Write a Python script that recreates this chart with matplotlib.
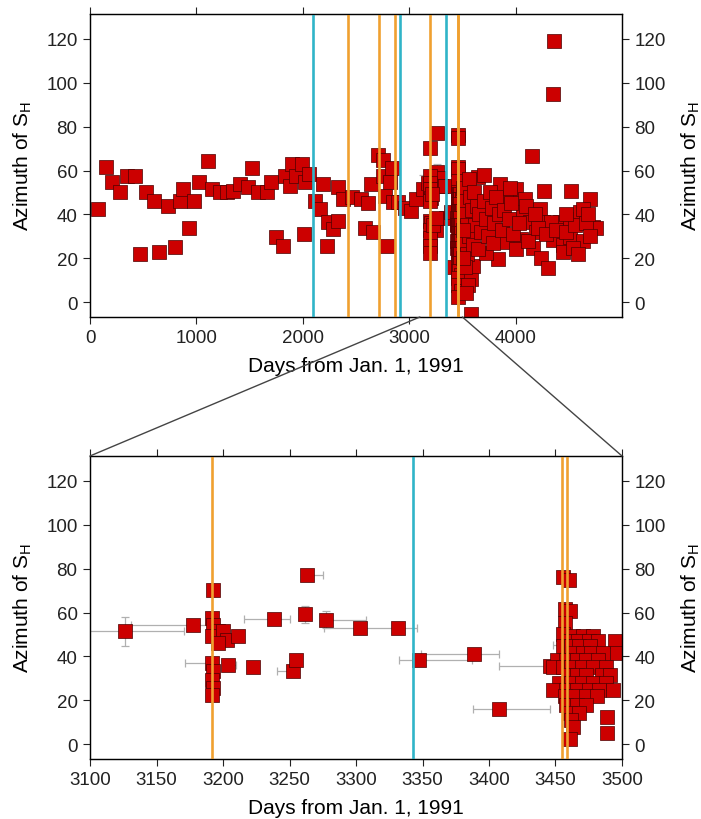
import numpy as np
import matplotlib
matplotlib.use('Agg')
import matplotlib.pyplot as plt
from matplotlib.patches import ConnectionPatch

plt.rcParams['font.family'] = ['Liberation Sans', 'DejaVu Sans']
plt.rcParams['mathtext.default'] = 'regular'

# --- data (days from Jan 1 1991, azimuth of SH in degrees) ---

# early sparse measurements, 0-3100
early_days = [77, 150, 205, 280, 345, 420, 470, 530, 600, 650, 735, 800, 845, 870,
              930, 975, 1025, 1110, 1145, 1220, 1285, 1345, 1410, 1485, 1525, 1580,
              1660, 1705, 1745, 1810, 1830, 1880, 1895, 1940, 1990, 2010, 2020, 2060,
              2115, 2160, 2190, 2225, 2240, 2285, 2330, 2330, 2380, 2460, 2550, 2615,
              2585, 2660, 2645, 2705, 2755, 2755, 2790, 2770, 2815, 2835, 2850, 2895,
              2960, 3020, 3065]
early_az = [42.5, 61.6, 55, 50, 57.7, 57.6, 22, 50, 46, 23, 44, 25, 46, 51.5,
            34, 46, 55, 64.5, 51.5, 50, 50, 50.7, 54, 52.5, 61, 50,
            50, 55, 29.6, 25.7, 57.6, 53, 63, 57.6, 63, 31, 55, 58.4,
            46, 42.5, 54, 25.7, 36.5, 33.3, 37, 52.5, 47, 48, 47, 45,
            34, 32, 54, 67, 65, 57.5, 25.7, 48.4, 55, 61, 45.6, 45.6,
            43, 41.7, 47]

# windowed measurements with error bars, 3100-3450
win_days = [3126, 3177.5, 3238, 3263, 3261.6, 3277.5, 3303, 3331.8, 3252.4,
            3347, 3388.7, 3407.7, 3445.8, 3191.5, 3204, 3458]
win_az = [51.4, 54.5, 57, 77, 59.2, 56.8, 52.9, 52.9, 33.1,
          38.5, 41.2, 16, 35.4, 37, 36, 45]
win_xlo = [45, 47, 22, 0, 0, 0, 27, 0, 12, 15, 40, 20, 38, 20, 0, 10]
win_xhi = [45, 15, 12, 12, 0, 30, 27, 14, 0, 40, 19, 38, 10, 5, 6, 0]
win_yerr = [6.5, 0, 0, 0, 4, 4, 0, 0, 0, 0, 0, 0, 0, 0, 0, 0]

# clusters after the events (3190-3225 and 3448-3500)
clus_days = [3192.7, 3191.5, 3192.7, 3196.5, 3191.5, 3200, 3202.8, 3196.5, 3211.5,
             3192.7, 3191.5, 3192.7, 3191.5, 3222.8, 3255,
             3455.6, 3460, 3457, 3461, 3457, 3456,
             3463, 3471, 3478, 3460, 3467, 3475, 3482, 3495,
             3456, 3462, 3468, 3476, 3463, 3471, 3477, 3486, 3496,
             3451, 3458, 3466, 3473, 3482, 3448, 3456, 3462, 3470, 3478, 3488,
             3460, 3466, 3473, 3485, 3491, 3453, 3462, 3470, 3478, 3488,
             3448, 3458, 3466, 3475, 3483, 3493, 3457, 3465, 3473, 3481,
             3458, 3466, 3473, 3461, 3468, 3489, 3462, 3463, 3489, 3461]
clus_az = [70.5, 57.6, 54.5, 51.4, 49.2, 51.4, 47.6, 46, 49.5,
           33.1, 29.3, 25.5, 22.5, 35, 38.5,
           76, 75, 61.4, 60.7, 55.3, 50,
           49.4, 49.4, 49.4, 47, 47, 47, 47, 47,
           44.6, 44.6, 44.6, 44.6, 41.5, 41.5, 41.5, 41.5, 41.5,
           38.5, 38.5, 38.5, 38.5, 38.5, 35, 35, 35, 35, 35, 35,
           31.6, 31.6, 31.6, 31.6, 31.6, 27.8, 27.8, 27.8, 27.8, 27.8,
           24.8, 24.8, 24.8, 24.8, 24.8, 24.8, 21.8, 21.8, 21.8, 21.8,
           18, 18, 18, 14.1, 14.1, 12.5, 11, 8, 5, 2.1]

# later measurements, 3500-4800
late_days = [3585, 3584, 3599, 3646, 3700, 3855, 4007, 3913, 4085, 4155, 4069, 4131,
             4194, 4054, 4163, 3913, 3834, 3725, 4263, 4523, 4695, 4225, 4413, 4507,
             4601, 4632, 4726, 4256, 4335, 4351, 4445, 4507, 4445, 4632, 4538, 4242,
             4304, 4365, 4350, 4760,
             3510, 3530, 3515, 3540, 3520, 3545, 3525, 3550, 3560, 3575, 3590, 3565,
             3600, 3620, 3640, 3610, 3660, 3675, 3650, 3700, 3720, 3740, 3760, 3780,
             3800, 3790, 3820, 3840, 3870, 3890, 3940, 3960, 3980, 4000, 4030, 3950,
             4100, 4120, 4180, 4210, 4290, 4380, 4470, 4560, 4660, 4700, 4590, 4470,
             4680, 3505, 3530, 3510]
late_az = [-5.5, 10.4, 16.5, 57, 58, 54, 51.5, 47, 47, 66.5, 41, 36.6,
           32, 29, 24.5, 27.2, 19.6, 22.6, 50.8, 50.8, 47, 42.5, 36.6, 38,
           41, 42.5, 34.2, 36.6, 36.6, 28.1, 26, 29.5, 22.9, 27.8, 24.8, 20.1,
           15.6, 119, 95, 34,
           52, 46, 40, 35, 28, 22, 16, 8, 56, 48, 42, 30,
           26, 35, 44, 50, 40, 32, 24, 46, 38, 30, 50, 43,
           36, 27, 48, 40, 33, 42, 38, 45, 31, 24, 36, 52,
           44, 28, 40, 34, 31, 33, 32, 35, 36, 30, 22, 40,
           40, 33, 4, 20]

orange_days = [2423, 2714, 2869, 3192, 3455, 3459]
cyan_days = [2094, 2911, 3343]

ylim = (-6.8, 131.4)
y_ticks = [0, 20, 40, 60, 80, 100, 120]

all_days = early_days + win_days + clus_days + late_days
all_az = early_az + win_az + clus_az + late_az

fig = plt.figure(figsize=(7.01, 8.2), dpi=100)
ax_top = fig.add_axes([0.1284, 0.6122, 0.7589, 0.3695])
ax_bot = fig.add_axes([0.1284, 0.0732, 0.7589, 0.3695])

ylab = 'Azimuth of S$_H$'
panels = [(ax_top, (0, 5000), [0, 1000, 2000, 3000, 4000]),
          (ax_bot, (3100, 3500), [3100, 3150, 3200, 3250, 3300, 3350, 3400, 3450, 3500])]

for ax, xl, xt in panels:
    ax.errorbar(win_days, win_az, xerr=[win_xlo, win_xhi], yerr=win_yerr, fmt='none',
                ecolor='#b0b0b0', elinewidth=0.9, capsize=3, capthick=0.9, zorder=1)
    ax.scatter(all_days, all_az, marker='s', s=105, color='#cc0000',
               edgecolors='#4a0000', linewidths=0.5, zorder=2)
    for d in orange_days:
        ax.axvline(d, color='#f0a030', lw=1.9, zorder=3)
    for d in cyan_days:
        ax.axvline(d, color='#30b4c8', lw=1.9, zorder=3)
    ax.set_xlim(xl)
    ax.set_ylim(ylim)
    ax.set_xticks(xt)
    ax.set_yticks(y_ticks)
    ax.tick_params(direction='out', length=5, width=0.8, labelsize=13.5, pad=4,
                   top=True, colors='#222222')
    for sp in ax.spines.values():
        sp.set_linewidth(1.0)
        sp.set_color('#222222')
    ax.set_xlabel('Days from Jan. 1, 1991', fontsize=15, labelpad=7)
    ax.set_ylabel(ylab, fontsize=15, labelpad=9)
    ax2 = ax.twinx()
    ax2.set_ylim(ylim)
    ax2.set_yticks(y_ticks)
    ax2.tick_params(direction='out', length=5, width=0.8, labelsize=13.5, pad=4,
                    colors='#222222')
    ax2.set_ylabel(ylab, fontsize=15, labelpad=10)

# zoom connection lines
for d in [3100, 3500]:
    con = ConnectionPatch(xyA=(d, ylim[0]), coordsA=ax_top.transData,
                          xyB=(d, ylim[1]), coordsB=ax_bot.transData,
                          color='#444444', lw=1.0)
    fig.add_artist(con)

fig.savefig('out.png', dpi=100)
